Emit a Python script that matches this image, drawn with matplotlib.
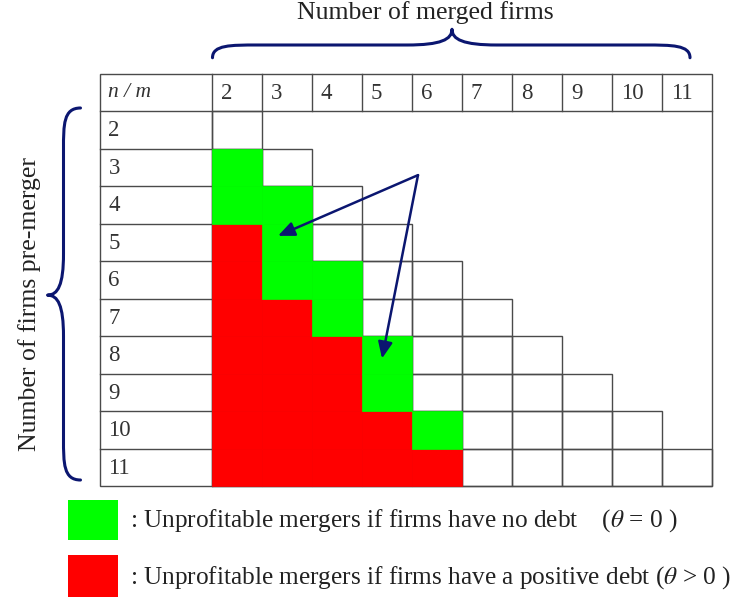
import matplotlib
matplotlib.use("Agg")
import matplotlib.pyplot as plt
from matplotlib.patches import Rectangle, PathPatch
from matplotlib.path import Path

# ---- data ----
merged_firms = [2, 3, 4, 5, 6, 7, 8, 9, 10, 11]        # m (columns)
premerger_firms = [2, 3, 4, 5, 6, 7, 8, 9, 10, 11]     # n (rows)
# unprofitable without debt (theta = 0): column m -> rows n
green_m = [2, 2, 3, 3, 3, 4, 4, 5, 5, 6]
green_n = [3, 4, 4, 5, 6, 6, 7, 8, 9, 10]
# unprofitable with positive debt (theta > 0)
red_m = [2, 2, 2, 2, 2, 2, 2, 3, 3, 3, 3, 3, 4, 4, 4, 4, 5, 5, 6]
red_n = [5, 6, 7, 8, 9, 10, 11, 7, 8, 9, 10, 11, 8, 9, 10, 11, 10, 11, 11]
corner_label = "n / m"
col_title = "Number of merged firms"
row_title = "Number of firms pre-merger"
legend_green = r": Unprofitable mergers if firms have no debt    ($\theta$ = 0 )"
legend_red = r": Unprofitable mergers if firms have a positive debt ($\theta$ > 0 )"

GREEN = "#00ff00"
RED = "#ff0000"
NAVY = "#0b1670"
LINE = "#4a4a4a"
TXT = "#333333"

plt.rcParams["font.family"] = ["Liberation Serif", "DejaVu Serif"]
plt.rcParams["mathtext.fontset"] = "stix"

fig = plt.figure(figsize=(7.4, 6), dpi=100)
ax = fig.add_axes([0, 0, 1, 1])
ax.set_xlim(-4.25, 10.55)
ax.set_ylim(13.04, -2.96)
ax.axis("off")

LW = 1.0
label_w = 2.25
ncol = len(merged_firms)
nrow = len(premerger_firms)

# outer frame and header separator
ax.add_patch(Rectangle((-label_w, -1), label_w + ncol, nrow + 1, fill=False,
                       ec=LINE, lw=LW, zorder=2))
ax.plot([-label_w, ncol], [0, 0], color=LINE, lw=LW, zorder=2)
ax.plot([0, 0], [-1, nrow], color=LINE, lw=LW, zorder=2)
# header column separators
for j in range(1, ncol):
    ax.plot([j, j], [-1, 0], color=LINE, lw=LW, zorder=2)
# row label separators
for i in range(1, nrow):
    ax.plot([-label_w, 0], [i, i], color=LINE, lw=LW, zorder=2)
# triangle cells
for i, n in enumerate(premerger_firms):
    for j, m in enumerate(merged_firms):
        if m <= n:
            ax.add_patch(Rectangle((j, i), 1, 1, fill=False, ec=LINE, lw=LW, zorder=2))

# coloured cells
for m, n in zip(red_m, red_n):
    ax.add_patch(Rectangle((merged_firms.index(m), premerger_firms.index(n)), 1.0, 1.0,
                           fc=RED, ec=RED, lw=0.5, zorder=3))
for m, n in zip(green_m, green_n):
    ax.add_patch(Rectangle((merged_firms.index(m), premerger_firms.index(n)), 1.0, 1.0,
                           fc=GREEN, ec=GREEN, lw=0.5, zorder=3))

FS = 16.5
# header labels
ax.text(-label_w + 0.17, -0.5, corner_label, fontsize=FS - 1, style="italic",
        color=TXT, ha="left", va="center")
for j, m in enumerate(merged_firms):
    ax.text(j + 0.17, -0.48, str(m), fontsize=FS, color=TXT, ha="left", va="center")
for i, n in enumerate(premerger_firms):
    ax.text(-label_w + 0.17, i + 0.52, str(n), fontsize=FS, color=TXT, ha="left", va="center")

# braces
def brace(u0, u1, ut, v_end, v_arm, v_tip, r, vertical=False):
    verts = [(u0, v_end), (u0, v_arm), (u0 + r * 0.4, v_arm), (u0 + r, v_arm),
             (ut - r, v_arm),
             (ut - r * 0.25, v_arm), (ut, v_arm + (v_tip - v_arm) * 0.35), (ut, v_tip),
             (ut, v_arm + (v_tip - v_arm) * 0.35), (ut + r * 0.25, v_arm), (ut + r, v_arm),
             (u1 - r, v_arm),
             (u1 - r * 0.4, v_arm), (u1, v_arm), (u1, v_end)]
    codes = [Path.MOVETO, Path.CURVE4, Path.CURVE4, Path.CURVE4, Path.LINETO,
             Path.CURVE4, Path.CURVE4, Path.CURVE4, Path.CURVE4, Path.CURVE4, Path.CURVE4,
             Path.LINETO, Path.CURVE4, Path.CURVE4, Path.CURVE4]
    if vertical:
        verts = [(v, u) for u, v in verts]
    ax.add_patch(PathPatch(Path(verts, codes), fill=False, ec=NAVY, lw=2.2,
                           capstyle="round", joinstyle="round", zorder=4))

brace(0.0, 9.55, 4.79, -1.42, -1.76, -2.18, 0.9)
brace(-0.08, 9.84, 4.91, -2.64, -2.98, -3.3, 1.1, vertical=True)

ax.text(4.25, -2.62, col_title, fontsize=18.5, color="#222222", ha="center", va="center")
ax.text(-3.66, 5.15, row_title, fontsize=18.5, color="#222222", ha="center",
        va="center", rotation=90)

# arrows
start = (4.11, 1.71)
for end in [(1.31, 3.33), (3.39, 6.6)]:
    ax.annotate("", xy=end, xytext=start,
                arrowprops=dict(arrowstyle="-|>,head_length=0.55,head_width=0.24",
                                color=NAVY, lw=1.8, shrinkA=0, shrinkB=0,
                                mutation_scale=18), zorder=5)

# legend
ax.add_patch(Rectangle((-2.89, 10.37), 1.0, 1.07, fc=GREEN, ec="none", zorder=3))
ax.add_patch(Rectangle((-2.89, 11.85), 1.0, 1.11, fc=RED, ec="none", zorder=3))
ax.text(-1.65, 10.93, legend_green, fontsize=18.2, color="#222222", ha="left", va="center")
ax.text(-1.65, 12.43, legend_red, fontsize=18.2, color="#222222", ha="left", va="center")

fig.savefig("out.png", dpi=100)
